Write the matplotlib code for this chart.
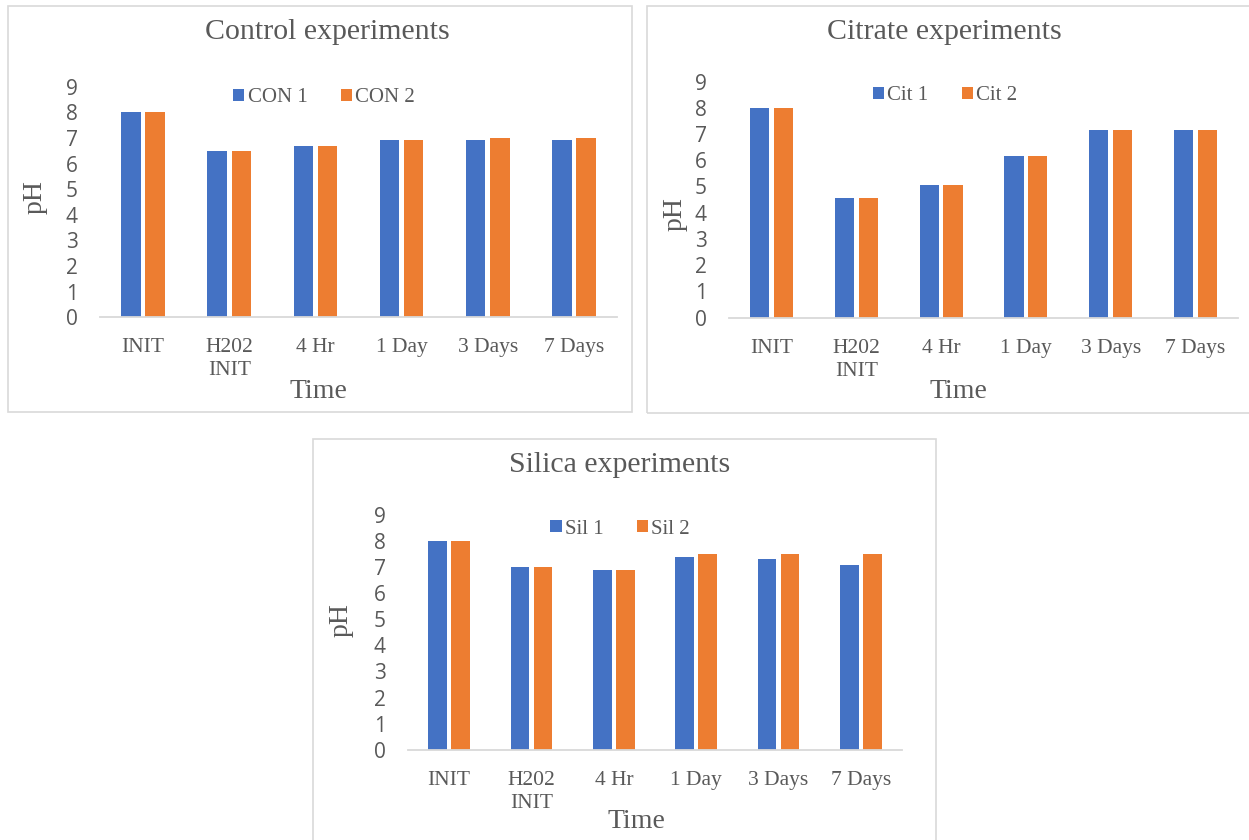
import matplotlib
matplotlib.use("Agg")
import matplotlib.pyplot as plt
from matplotlib.patches import Rectangle
import numpy as np

# Sampling times shared by all three experiments
categories = ["INIT", "H202\nINIT", "4 Hr", "1 Day", "3 Days", "7 Days"]

# pH readings, two replicates per experiment
con1 = [8.0, 6.5, 6.7, 6.9, 6.9, 6.9]
con2 = [8.0, 6.5, 6.7, 6.9, 7.0, 7.0]

cit1 = [8.0, 4.55, 5.05, 6.15, 7.15, 7.15]
cit2 = [8.0, 4.55, 5.05, 6.15, 7.15, 7.15]

sil1 = [8.0, 7.0, 6.9, 7.4, 7.3, 7.1]
sil2 = [8.0, 7.0, 6.9, 7.5, 7.5, 7.5]

y_ticks = list(range(0, 10))

BLUE = "#4472C4"
ORANGE = "#ED7D31"
TEXT = "#595959"
GRID = "#D9D9D9"
SERIF = "Liberation Serif"
SANS = "Open Sans"

W, H = 1249, 840
fig = plt.figure(figsize=(W / 100, H / 100), dpi=100)
fig.patch.set_facecolor("white")


def fx(px):
    return px / W


def fy(py):
    return 1 - py / H


def frame(l, t, r, b):
    fig.patches.append(Rectangle((fx(l), fy(b)), fx(r) - fx(l), fy(t) - fy(b),
                                 transform=fig.transFigure, fill=False,
                                 edgecolor=GRID, linewidth=1.2, zorder=0))


def panel(box, s1, s2, names, title, title_xy, legend_xy, ph_xy, time_xy):
    l, t, r, b = box
    ax = fig.add_axes([fx(l), fy(b), fx(r) - fx(l), fy(t) - fy(b)])
    x = np.arange(len(categories))
    w, off = 0.226, 0.14
    ax.bar(x - off, s1, width=w, color=BLUE, label=names[0], zorder=2)
    ax.bar(x + off, s2, width=w, color=ORANGE, label=names[1], zorder=2)
    ax.set_xlim(-0.5, len(categories) - 0.5)
    ax.set_ylim(0, 9)
    ax.set_yticks(y_ticks)
    ax.set_xticks(x)
    ax.set_xticklabels(categories, fontfamily=SERIF, fontsize=15.5,
                       color=TEXT, linespacing=1.3)
    ax.set_yticklabels([str(v) for v in y_ticks], fontfamily=SANS,
                       fontsize=15, color=TEXT)
    ax.tick_params(axis="both", length=0)
    ax.tick_params(axis="x", pad=15)
    ax.tick_params(axis="y", pad=16)
    for side in ("top", "right", "left"):
        ax.spines[side].set_visible(False)
    ax.spines["bottom"].set_color(GRID)
    ax.spines["bottom"].set_linewidth(1.3)
    ax.set_facecolor("none")

    fig.text(fx(title_xy[0]), fy(title_xy[1]), title, fontfamily=SERIF,
             fontsize=21.5, color=TEXT, ha="center", va="center")
    fig.text(fx(ph_xy[0]), fy(ph_xy[1]), "pH", fontfamily=SERIF,
             fontsize=20, color=TEXT, ha="center", va="center", rotation=90)
    fig.text(fx(time_xy[0]), fy(time_xy[1]), "Time", fontfamily=SERIF,
             fontsize=20, color=TEXT, ha="center", va="center")
    leg = ax.legend(loc="center", bbox_to_anchor=(fx(legend_xy[0]), fy(legend_xy[1])),
                    bbox_transform=fig.transFigure, ncol=2, frameon=False,
                    prop={"family": SERIF, "size": 15},
                    handlelength=0.55, handleheight=0.55, handletextpad=0.15,
                    columnspacing=1.6, borderpad=0, borderaxespad=0)
    for txt in leg.get_texts():
        txt.set_color(TEXT)
    return ax


frame(7.5, 6, 631.5, 412)
frame(647.5, 6, 1262, 413)
frame(313, 439, 936, 860)

panel((100, 86.6, 617, 317.3), con1, con2, ("CON 1", "CON 2"),
      "Control experiments", (327, 32), (324, 98), (35, 197), (318, 392))
panel((729, 81.5, 1238, 317.7), cit1, cit2, ("Cit 1", "Cit 2"),
      "Citrate experiments", (944, 32), (945, 96), (675, 214), (958, 392))
panel((408, 515, 902, 749.7), sil1, sil2, ("Sil 1", "Sil 2"),
      "Silica experiments", (620, 465), (620, 529), (341, 620), (636, 822))

fig.savefig("out.png", dpi=100, facecolor="white")
